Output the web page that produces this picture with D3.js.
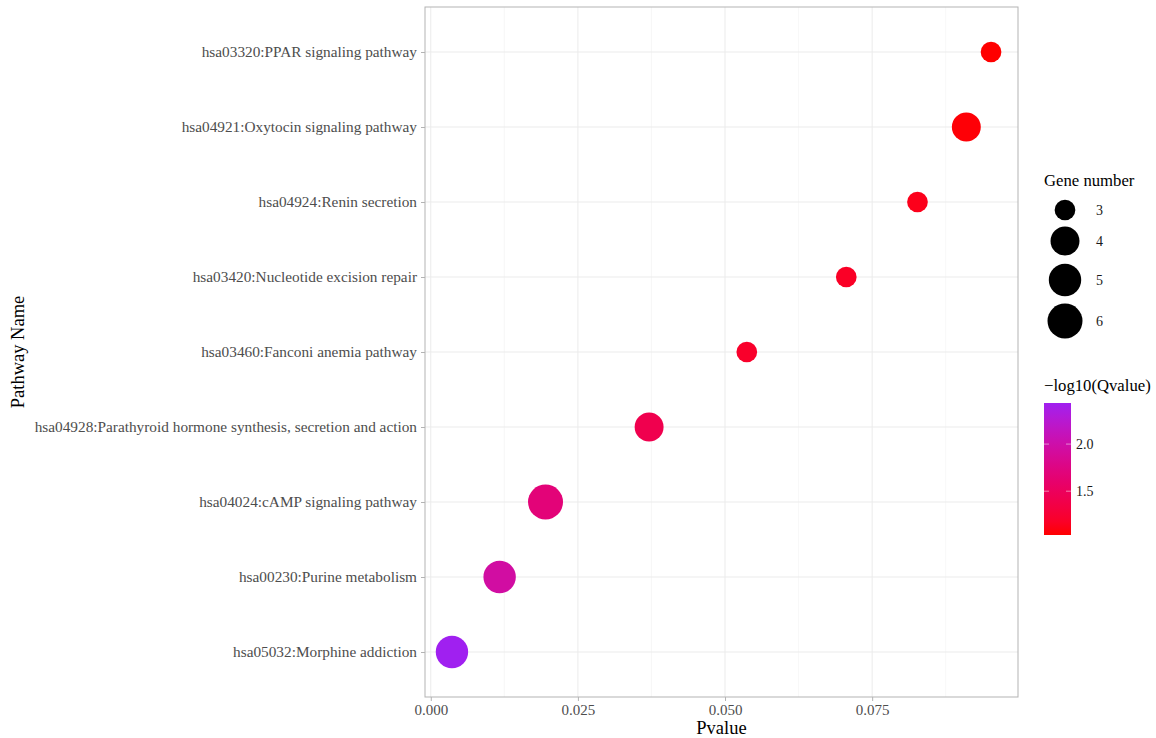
<!DOCTYPE html>
<html>
<head>
<meta charset="utf-8">
<script src="https://cdn.jsdelivr.net/npm/d3@7"></script>
<style>
  body { margin: 0; background: #fff; }
  text { font-family: "Liberation Serif", "Times New Roman", serif; }
</style>
</head>
<body>
<svg id="chart" width="1156" height="738"></svg>
<script>
// data, bottom to top
const pathways = [
    "hsa05032:Morphine addiction",
    "hsa00230:Purine metabolism",
    "hsa04024:cAMP signaling pathway",
    "hsa04928:Parathyroid hormone synthesis, secretion and action",
    "hsa03460:Fanconi anemia pathway",
    "hsa03420:Nucleotide excision repair",
    "hsa04924:Renin secretion",
    "hsa04921:Oxytocin signaling pathway",
    "hsa03320:PPAR signaling pathway"
]
const pvalues = [0.0036, 0.0117, 0.0195, 0.0371, 0.0537, 0.0706, 0.0827, 0.0910, 0.0952]
const geneCounts = [5, 5, 6, 4, 3, 3, 3, 4, 3]
const negLogQ = [2.436, 1.95, 1.68, 1.41, 1.2, 1.17, 1.12, 1.05, 1.035]
const xTicks = [0, 0.025, 0.05, 0.075]
const sizeBreaks = [3, 4, 5, 6]
const colourBreaks = [1.5, 2.0]

const svg = d3.select("#chart")

const panel = { left: 425, right: 1018, top: 7, bottom: 697 }

// ggplot style 5% expansion
const [pMin, pMax] = d3.extent(pvalues)
const pad = (pMax - pMin) * 0.05
const x = d3.scaleLinear().domain([pMin - pad, pMax + pad]).range([panel.left, panel.right])
const y = d3.scaleLinear().domain([0.4, pathways.length + 0.6]).range([panel.bottom, panel.top])

const qExtent = d3.extent(negLogQ)
const colour = d3.scaleLinear().domain(qExtent).range(["#FF0000", "#A020F0"]).interpolate(d3.interpolateLab)

const [gMin, gMax] = d3.extent(geneCounts)
const radiusOf = g => d3.scaleLinear().domain([0, 1]).range([10.35, 17.5])(Math.sqrt((g - gMin) / (gMax - gMin)))

// gridlines
const grid = svg.append("g")
const minorTicks = d3.range(0.0125, 0.1, 0.025)
grid.selectAll(".minor-x").data(minorTicks).enter().append("line")
    .attr("x1", d => x(d)).attr("x2", d => x(d))
    .attr("y1", panel.top).attr("y2", panel.bottom)
    .attr("stroke", "#f2f2f2").attr("stroke-width", 0.6)
grid.selectAll(".major-x").data(xTicks).enter().append("line")
    .attr("x1", d => x(d)).attr("x2", d => x(d))
    .attr("y1", panel.top).attr("y2", panel.bottom)
    .attr("stroke", "#ebebeb").attr("stroke-width", 1)
grid.selectAll(".major-y").data(pathways).enter().append("line")
    .attr("x1", panel.left).attr("x2", panel.right)
    .attr("y1", (d, i) => y(i + 1)).attr("y2", (d, i) => y(i + 1))
    .attr("stroke", "#ebebeb").attr("stroke-width", 1)

// points
svg.append("g").selectAll("circle")
    .data(pathways).enter().append("circle")
    .attr("cx", (d, i) => x(pvalues[i]))
    .attr("cy", (d, i) => y(i + 1))
    .attr("r", (d, i) => radiusOf(geneCounts[i]))
    .attr("fill", (d, i) => colour(negLogQ[i]))

// panel border
svg.append("rect")
    .attr("x", panel.left).attr("y", panel.top)
    .attr("width", panel.right - panel.left).attr("height", panel.bottom - panel.top)
    .attr("fill", "none").attr("stroke", "#b3b3b3").attr("stroke-width", 1)

// x axis
const xAxis = svg.append("g")
    .attr("transform", `translate(0, ${panel.bottom})`)
    .call(d3.axisBottom(x).tickValues(xTicks).tickFormat(d3.format(".3f")).tickSize(4).tickPadding(3))
xAxis.select(".domain").remove()
xAxis.selectAll("line").attr("stroke", "#b3b3b3")
xAxis.selectAll("text").attr("fill", "#4d4d4d").style("font-size", "15px")

// y axis
const yAxis = svg.append("g")
    .attr("transform", `translate(${panel.left}, 0)`)
    .call(d3.axisLeft(y).tickValues(d3.range(1, pathways.length + 1)).tickFormat(d => pathways[d - 1]).tickSize(4).tickPadding(4))
yAxis.select(".domain").remove()
yAxis.selectAll("line").attr("stroke", "#b3b3b3")
yAxis.selectAll("text").attr("fill", "#4d4d4d").style("font-size", "15.3px")

// axis titles
svg.append("text")
    .attr("x", (panel.left + panel.right) / 2).attr("y", 734)
    .attr("text-anchor", "middle").style("font-size", "18.5px")
    .text("Pvalue")
svg.append("text")
    .attr("transform", `translate(24, ${(panel.top + panel.bottom) / 2}) rotate(-90)`)
    .attr("text-anchor", "middle").style("font-size", "18.5px")
    .text("Pathway Name")

// size legend
const sizeLegend = svg.append("g").attr("transform", "translate(1044, 0)")
sizeLegend.append("text").attr("x", 0).attr("y", 186).style("font-size", "16.7px").text("Gene number")
const keyY = [210, 241, 280, 321]
sizeLegend.selectAll("circle").data(sizeBreaks).enter().append("circle")
    .attr("cx", 21).attr("cy", (d, i) => keyY[i])
    .attr("r", d => radiusOf(d)).attr("fill", "#000")
sizeLegend.selectAll(".lab").data(sizeBreaks).enter().append("text")
    .attr("x", 52).attr("y", (d, i) => keyY[i] + 5)
    .style("font-size", "14px").attr("fill", "#1a1a1a")
    .text(d => d)

// colour legend
const bar = { x: 1044, top: 403, bottom: 535, width: 27 }
const defs = svg.append("defs")
const grad = defs.append("linearGradient").attr("id", "qgrad")
    .attr("x1", 0).attr("y1", 1).attr("x2", 0).attr("y2", 0)
grad.selectAll("stop").data(d3.range(0, 1.01, 0.1)).enter().append("stop")
    .attr("offset", d => `${d * 100}%`)
    .attr("stop-color", d => colour(qExtent[0] + d * (qExtent[1] - qExtent[0])))

svg.append("text").attr("x", bar.x).attr("y", 391).style("font-size", "16.7px").text("\u2212log10(Qvalue)")
svg.append("rect")
    .attr("x", bar.x).attr("y", bar.top).attr("width", bar.width).attr("height", bar.bottom - bar.top)
    .attr("fill", "url(#qgrad)")
const barY = d3.scaleLinear().domain(qExtent).range([bar.bottom, bar.top])
svg.selectAll(".cb-tick").data(colourBreaks).enter().append("g")
    .each(function (d) {
        const g = d3.select(this)
        g.append("line").attr("x1", bar.x).attr("x2", bar.x + 5).attr("y1", barY(d)).attr("y2", barY(d))
            .attr("stroke", "#fff").attr("stroke-opacity", 0.5)
        g.append("line").attr("x1", bar.x + bar.width - 5).attr("x2", bar.x + bar.width).attr("y1", barY(d)).attr("y2", barY(d))
            .attr("stroke", "#fff").attr("stroke-opacity", 0.5)
        g.append("text").attr("x", bar.x + bar.width + 5).attr("y", barY(d) + 5)
            .style("font-size", "14px").attr("fill", "#1a1a1a").text(d3.format(".1f")(d))
    })
</script>
</body>
</html>
